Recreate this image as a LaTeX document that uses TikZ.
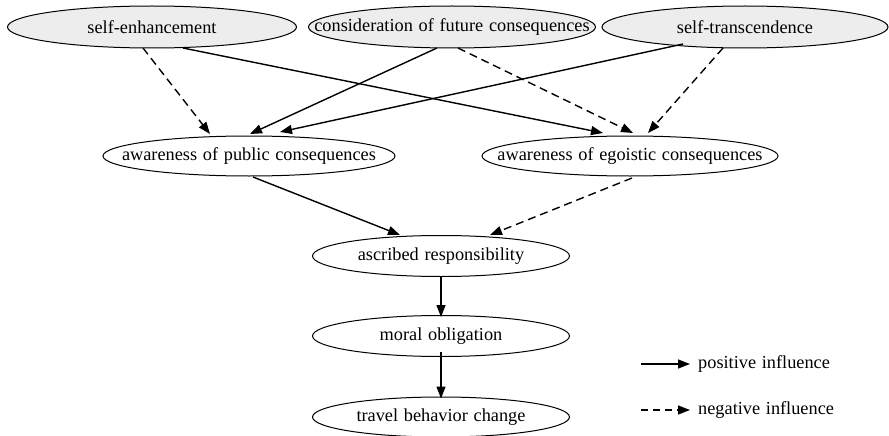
\documentclass[tikz,border=0pt]{standalone}
\usepackage{fontspec}
\setmainfont[WordSpace={1.25}]{Liberation Serif}
\usetikzlibrary{shapes.geometric,arrows.meta,calc}
% label set without width, so the ellipse keeps its given size
\newcommand{\lbl}[1]{\makebox[0pt]{#1}}
\begin{document}
\begin{tikzpicture}[x=1pt,y=-1pt,
  every node/.style={font=\fontsize{18.3}{20}\selectfont},
  factor/.style={ellipse,draw,line width=1pt,inner sep=0pt,fill=black!7,minimum height=42pt},
  construct/.style={ellipse,draw,line width=1pt,inner sep=0pt,fill=white,minimum height=41pt},
  posarrow/.style={line width=1.4pt,-{Triangle[length=12pt,width=9pt]}},
  negarrow/.style={posarrow,dash pattern=on 8pt off 5pt},
  legtext/.style={anchor=west,inner sep=0pt}]
\useasboundingbox (0,0) rectangle (889,436);

% value orientations
\node[factor,minimum width=289pt] (se)  at (152,27) {\lbl{self-enhancement}};
\node[factor,minimum width=287pt] (cfc) at (452,27) {\lbl{consideration of future consequences}};
\node[factor,minimum width=286pt] (st)  at (745,27) {\lbl{self-transcendence}};

% awareness of consequences
\node[construct,minimum width=292pt,minimum height=40pt] (pub) at (249,156) {\lbl{awareness of public consequences}};
\node[construct,minimum width=296pt,minimum height=40pt] (ego) at (630,156) {\lbl{awareness of egoistic consequences}};

% norm activation chain
\node[construct,minimum width=257pt] (asc) at (441,256) {\lbl{ascribed responsibility}};
\node[construct,minimum width=257pt] (mor) at (441,336) {\lbl{moral obligation}};
\node[construct,minimum width=257pt,minimum height=40pt] (tra) at (441,417) {\lbl{travel behavior change}};

% influences on awareness
\draw[negarrow] ($(se)+(-9,21)$)  -- ($(pub)+(-39,-22)$);
\draw[posarrow] ($(se)+(31,21)$)  -- ($(ego)+(-27,-23)$);
\draw[posarrow] ($(cfc)+(-15,21)$) -- ($(pub)+(1,-22)$);
\draw[negarrow] ($(cfc)+(6,21)$)  -- ($(ego)+(3,-23)$);
\draw[posarrow] ($(st)+(-62,17)$) -- ($(pub)+(31,-24)$);
\draw[negarrow] ($(st)+(-22,21)$) -- ($(ego)+(18,-23)$);

% awareness to responsibility
\draw[posarrow] ($(pub)+(4,21)$) -- ($(asc)+(-41,-21)$);
\draw[negarrow] ($(ego)+(2,22)$) -- ($(asc)+(49,-21)$);

% responsibility to behaviour
\draw[posarrow] (asc.south) -- ([yshift=-2pt]mor.north);
\draw[posarrow] ([yshift=5pt]mor.south) -- ([yshift=-2pt]tra.north);

% legend
\coordinate (p0) at (641,364);
\coordinate (p1) at (690,364);
\coordinate (n0) at (641,410);
\coordinate (n1) at (690,410);
\draw[posarrow] (p0) -- (p1);
\draw[negarrow,dash pattern=on 7pt off 5pt] (n0) -- (n1);
\node[legtext] (lp) at (698,364) {positive influence};
\node[legtext] (ln) at (698,410) {negative influence};
\end{tikzpicture}
\end{document}
